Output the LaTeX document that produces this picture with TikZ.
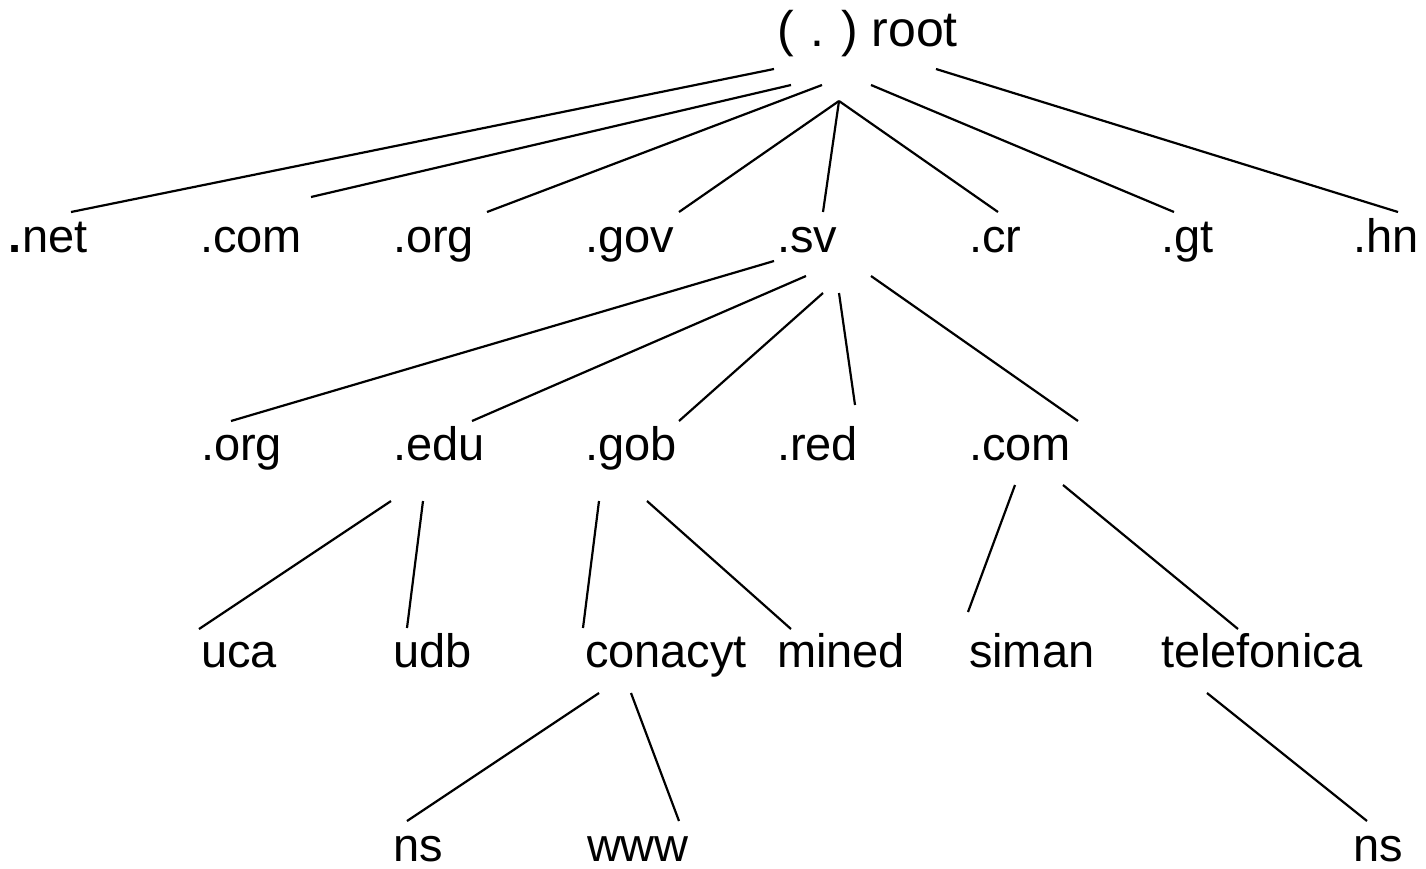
\documentclass[tikz,border=0pt]{standalone}
\usepackage{fontspec}
\setmainfont{Liberation Sans}
\begin{document}
\begin{tikzpicture}[x=1pt,y=-1pt,
  lbl/.style={anchor=base west,inner sep=0pt,outer sep=0pt,font=\fontsize{47}{56}\selectfont},
  edge/.style={line width=2.2pt,black}]
\useasboundingbox (0,0) rectangle (1426,868);
% nodes
\node[lbl,font=\fontsize{50}{60}\selectfont] (root) at (777,46) {(\hspace{16.8pt}.\hspace{16.7pt})\hspace{14pt}root};
\node[lbl] (net) at (9,252) {\textbf{.}net};
\node[lbl] (com1) at (200,252) {.com};
\node[lbl] (org1) at (393,252) {.org};
\node[lbl] (gov) at (585,252) {.gov};
\node[lbl] (sv) at (777,252) {.sv};
\node[lbl] (cr) at (969,252) {.cr};
\node[lbl] (gt) at (1161,252) {.gt};
\node[lbl] (hn) at (1353,252) {.hn};
\node[lbl] (org2) at (201,460) {.org};
\node[lbl] (edu) at (393,460) {.edu};
\node[lbl] (gob) at (585,460) {.gob};
\node[lbl] (red) at (777,460) {.red};
\node[lbl] (com2) at (969,460) {.com};
\node[lbl] (uca) at (201,667) {uca};
\node[lbl] (udb) at (393,667) {udb};
\node[lbl] (conacyt) at (585,667) {conacyt};
\node[lbl] (mined) at (777,667) {mined};
\node[lbl] (siman) at (969,667) {siman};
\node[lbl] (telefonica) at (1161,667) {telefonica};
\node[lbl] (ns1) at (393,861) {ns};
\node[lbl] (www) at (587,861) {www};
\node[lbl] (ns2) at (1353,861) {ns};
% connector end points
\coordinate (rA) at (774,69);  \coordinate (netT) at (71,212);
\coordinate (rB) at (791,85);  \coordinate (com1T) at (311,197);
\coordinate (rC) at (822,85);  \coordinate (org1T) at (487,212);
\coordinate (rD) at (839,101); \coordinate (govT) at (679,212);
\coordinate (svT) at (823,212); \coordinate (crT) at (998,212);
\coordinate (rE) at (871,85);  \coordinate (gtT) at (1174,212);
\coordinate (rF) at (936,69);  \coordinate (hnT) at (1398,212);
\coordinate (svA) at (774,261); \coordinate (org2T) at (231,421);
\coordinate (svB) at (806,276); \coordinate (eduT) at (472,421);
\coordinate (svC) at (823,293); \coordinate (gobT) at (679,421);
\coordinate (svD) at (839,293); \coordinate (redT) at (855,405);
\coordinate (svE) at (871,276); \coordinate (com2T) at (1078,421);
\coordinate (eduA) at (391,501); \coordinate (ucaT) at (199,629);
\coordinate (eduB) at (423,501); \coordinate (udbT) at (407,628);
\coordinate (gobA) at (599,501); \coordinate (conacytT) at (583,628);
\coordinate (gobB) at (647,501); \coordinate (minedT) at (791,629);
\coordinate (comA) at (1015,485); \coordinate (simanT) at (968,612);
\coordinate (comB) at (1063,485); \coordinate (telefonicaT) at (1238,629);
\coordinate (conA) at (599,693); \coordinate (ns1T) at (407,821);
\coordinate (conB) at (631,693); \coordinate (wwwT) at (679,821);
\coordinate (telA) at (1207,693); \coordinate (ns2T) at (1367,821);
% connectors
\draw[edge] (rA) -- (netT);
\draw[edge] (rB) -- (com1T);
\draw[edge] (rC) -- (org1T);
\draw[edge] (rD) -- (govT);
\draw[edge] (rD) -- (svT);
\draw[edge] (rD) -- (crT);
\draw[edge] (rE) -- (gtT);
\draw[edge] (rF) -- (hnT);
\draw[edge] (svA) -- (org2T);
\draw[edge] (svB) -- (eduT);
\draw[edge] (svC) -- (gobT);
\draw[edge] (svD) -- (redT);
\draw[edge] (svE) -- (com2T);
\draw[edge] (eduA) -- (ucaT);
\draw[edge] (eduB) -- (udbT);
\draw[edge] (gobA) -- (conacytT);
\draw[edge] (gobB) -- (minedT);
\draw[edge] (comA) -- (simanT);
\draw[edge] (comB) -- (telefonicaT);
\draw[edge] (conA) -- (ns1T);
\draw[edge] (conB) -- (wwwT);
\draw[edge] (telA) -- (ns2T);
\end{tikzpicture}
\end{document}
